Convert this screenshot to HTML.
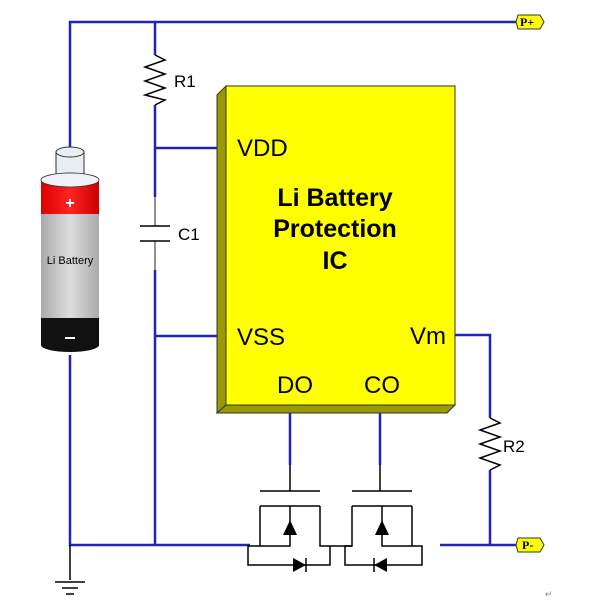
<!DOCTYPE html>
<html><head><style>body{margin:0;background:#fff}svg{display:block}</style></head><body>
<svg width="605" height="610" viewBox="0 0 605 610" xmlns="http://www.w3.org/2000/svg" font-family="Liberation Sans, sans-serif">
<defs>
<linearGradient id="g" x1="0" x2="1"><stop offset="0" stop-color="#aaa"/><stop offset="0.5" stop-color="#ddd"/><stop offset="1" stop-color="#aaa"/></linearGradient>
<linearGradient id="r" x1="0" x2="1"><stop offset="0" stop-color="#d00"/><stop offset="0.5" stop-color="#f22"/><stop offset="1" stop-color="#c00"/></linearGradient>
</defs>
<g stroke="#2222bb" stroke-width="2.5" fill="none">
<path d="M70 150V22H518"/>
<path d="M155 22V55M155 105V197M155 148H220"/>
<path d="M155 270V545M155 336H220"/>
<path d="M70 355V545H250"/>
<path d="M455 335H490V418M490 470V545H518M440 545H490"/>
<path d="M290 413V465M380 413V465"/>
</g>
<g stroke="#555" stroke-width="1.3" fill="none">
<path d="M155 197V226M155 241V270"/>
</g>
<g stroke="#000" stroke-width="1.5" fill="none">
<path d="M155 55L165 60L145 67L165 74L145 81L165 88L145 95L165 100L155 105"/>
<path d="M490 418L500 423L480 430L500 437L480 444L500 451L480 458L500 465L490 470"/>
<path d="M140 226H170M140 241H170"/>
<path d="M70 545V580M55 582H85M62 588H78M66 594H74"/>
<path d="M260 491H320M290 465V491M260 506H320M260 506V546H248V565H330V546H320V506M290 506V546H260M320 546H352"/>
<path d="M352 491H412M380 465V491M352 506H412M352 506V546H345V565H422V546H412V506M382 506V546H412"/>
<path d="M306 558V572M374 558V572"/>
</g>
<polygon points="290,520 283,535 297,535" fill="#000"/>
<polygon points="382,520 375,535 389,535" fill="#000"/>
<polygon points="306,565 293,558 293,572" fill="#000"/>
<polygon points="374,565 387,558 387,572" fill="#000"/>
<polygon points="217,95 226,86 226,405 217,413" fill="#9a9a00" stroke="#333" stroke-width="1"/>
<polygon points="217,413 226,405 455,405 447,413" fill="#9a9a00" stroke="#333" stroke-width="1"/>
<rect x="226" y="86" width="229" height="319" fill="#ffff00" stroke="#333" stroke-width="1"/>
<g font-size="24" fill="#000">
<text x="237" y="156">VDD</text>
<text x="237" y="345">VSS</text>
<text x="410" y="344">Vm</text>
<text x="277" y="393">DO</text>
<text x="364" y="393">CO</text>
</g>
<g font-size="25" font-weight="bold" text-anchor="middle">
<text x="335" y="206">Li Battery</text>
<text x="335" y="237">Protection</text>
<text x="335" y="269">IC</text>
</g>
<g font-size="17"><text x="174" y="87">R1</text><text x="178" y="240">C1</text><text x="503" y="452">R2</text></g>
<g stroke="#333" stroke-width="1" fill="#ffff00">
<polygon points="518,15 540,15 544,22 540,29 518,29 516,22"/>
<polygon points="518,538 540,538 544,545 540,552 518,552 516,545"/>
</g>
<g font-family="Liberation Serif, serif" font-weight="bold" font-size="12"><text x="520" y="26">P+</text><text x="522" y="549">P-</text></g>
<rect x="56" y="152" width="28" height="26" fill="#e8eef4" stroke="#333"/>
<ellipse cx="70" cy="152" rx="14" ry="5" fill="#e8eef4" stroke="#333"/>
<ellipse cx="70" cy="178" rx="14" ry="5" fill="none" stroke="#333"/>
<rect x="41" y="180" width="58" height="34" fill="url(#r)"/>
<ellipse cx="70" cy="180" rx="29" ry="7" fill="#eef2f6" stroke="#333" stroke-width="0.8"/>
<rect x="41" y="214" width="58" height="104" fill="url(#g)"/>
<path d="M41 318H99V345A29 7 0 0 1 41 345Z" fill="#111"/>
<text x="70" y="208" fill="#fff" font-size="16" font-weight="bold" text-anchor="middle">+</text>
<rect x="65" y="337" width="10" height="2" fill="#fff"/>
<text x="70" y="264" font-size="11" text-anchor="middle">Li Battery</text>
<text x="545" y="597" font-size="9" fill="#888">↵</text>
</svg>
</body></html>
